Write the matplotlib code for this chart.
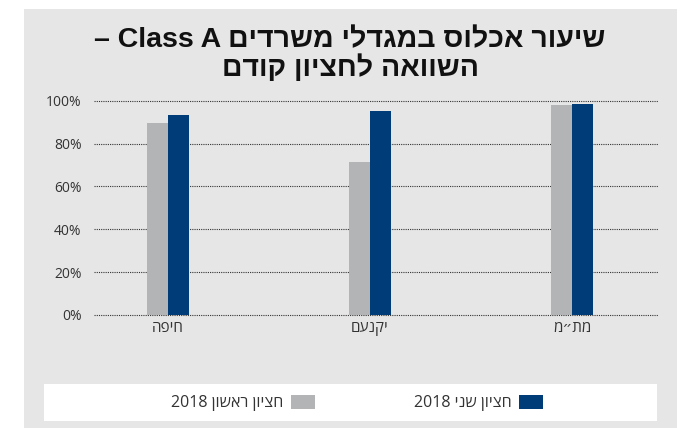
import re
import numpy as np
import matplotlib
matplotlib.use("Agg")
import matplotlib.pyplot as plt
from matplotlib.patches import Rectangle, Patch
from matplotlib.ticker import PercentFormatter

plt.rcParams['font.family'] = ['Open Sans', 'DejaVu Sans']

# data
categories = ['חיפה', 'יקנעם', 'מת״מ']
h1_2018 = [89.4, 71.5, 98.1]
h2_2018 = [93.5, 95.3, 98.6]
series_names = ['חציון ראשון 2018', 'חציון שני 2018']
title_lines = ['שיעור אכלוס במגדלי משרדים Class A –', 'השוואה לחציון קודם']


def vis(s):
    # crude bidi: reverse everything, then put latin/number runs back in order
    r = s[::-1]
    return re.sub(r'[A-Za-z0-9%]+(?: [A-Za-z0-9%]+)*', lambda m: m.group(0)[::-1], r)


W, H = 687, 428
fig = plt.figure(figsize=(W / 100, H / 100), dpi=100)
fig.patch.set_facecolor('white')

bg = '#e5e6e5'
gray = '#b3b4b6'
blue = '#003c78'

# grey panel and white legend strip
fig.add_artist(Rectangle((24 / W, 0), (677 - 24) / W, (428 - 9) / H,
                         transform=fig.transFigure, facecolor=bg, edgecolor='none', zorder=0))
fig.add_artist(Rectangle((44 / W, 1 - 421 / H), (657 - 44) / W, (421 - 384) / H,
                         transform=fig.transFigure, facecolor='white', edgecolor='none', zorder=0))

ax = fig.add_axes([94 / W, 1 - 315 / H, (658 - 94) / W, (315 - 100.7) / H])
ax.set_facecolor('none')

x = np.arange(len(categories))
w = 0.106
ax.bar(x - w / 2, h1_2018, width=w, color=gray, zorder=3)
ax.bar(x + w / 2, h2_2018, width=w, color=blue, zorder=3)

ax.set_xlim(-0.366, 2.426)
ax.set_ylim(0, 100)
ax.set_yticks(np.arange(0, 101, 20))
ax.yaxis.set_major_formatter(PercentFormatter(decimals=0))
ax.set_xticks(x)
ax.set_xticklabels([vis(c) for c in categories], fontsize=11, color='#333333')
ax.tick_params(axis='y', length=0, pad=9, labelsize=10, labelcolor='#333333')
ax.tick_params(axis='x', length=0, pad=4)
ax.grid(axis='y', linestyle=(0, (1, 1)), color='#333333', linewidth=0.8, zorder=1)
for gl in ax.get_ygridlines():
    gl.set_clip_on(False)
for sp in ax.spines.values():
    sp.set_visible(False)

for i, line in enumerate(title_lines):
    fig.text(350 / W, 1 - (40 + 28 * i) / H, vis(line), ha='center', va='center',
             fontsize=20.5, fontweight='bold', color='#111111',
             family=['Liberation Sans', 'DejaVu Sans'])

handles = [Patch(facecolor=gray), Patch(facecolor=blue)]
fig.legend(handles, [vis(s) for s in series_names], loc='center',
           bbox_to_anchor=(357 / W, 1 - 403 / H), ncol=2, markerfirst=False,
           frameon=False, fontsize=11.5, handlelength=1.5, handleheight=0.95,
           columnspacing=6.2, handletextpad=0.45, labelcolor='#333333')

fig.savefig('out.png', dpi=100)
